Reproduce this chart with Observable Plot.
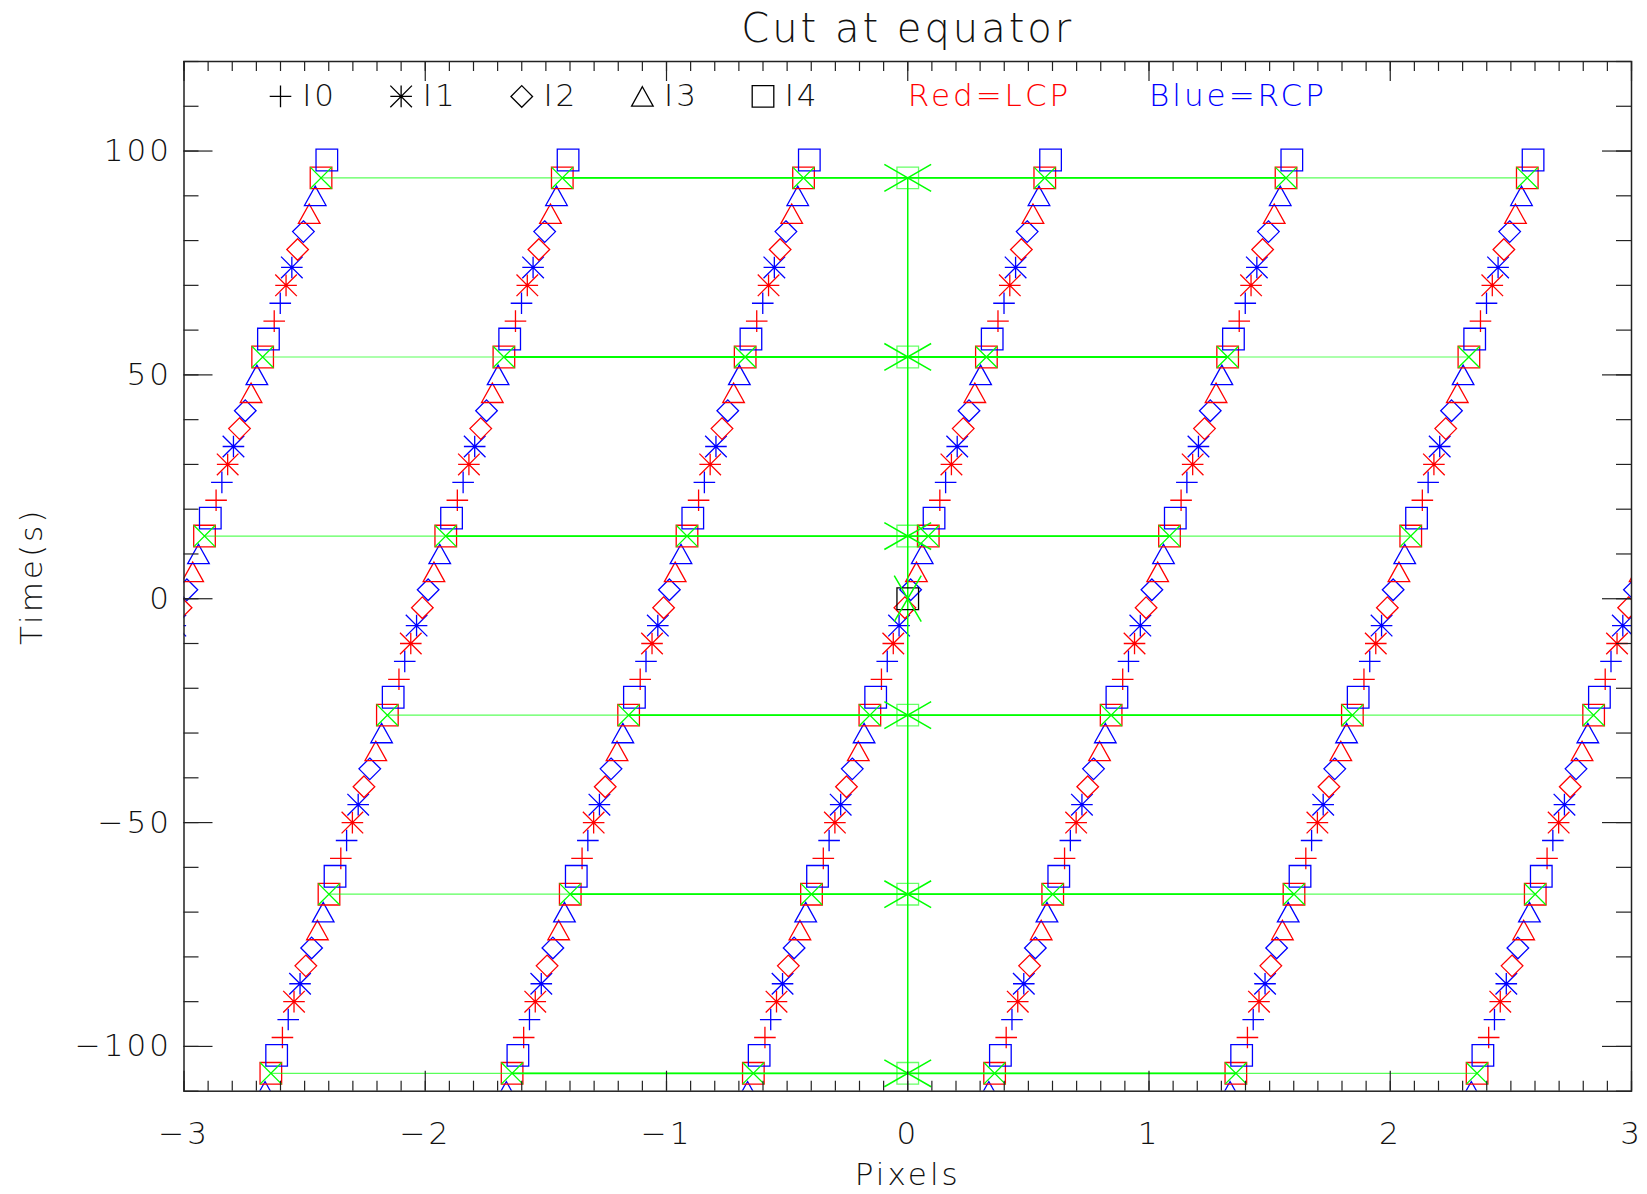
<!DOCTYPE html>
<html><head><meta charset="utf-8">
<script src="https://cdn.jsdelivr.net/npm/d3@7"></script>
<script src="https://cdn.jsdelivr.net/npm/@observablehq/plot@0.6"></script>
<style>
html,body{margin:0;padding:0;background:#fff;}
#chart svg{display:block;}
#chart svg text{letter-spacing:3px;}
</style></head><body><div id="chart"></div>
<script>
// ---------------- data ----------------
// sample times (s) along one track
const times = [-110,-106,-102,-98,-94,-90,-86,-82,-78,-74,-70,-66,-62,-58,-54,-50,-46,-42,-38,-34,-30,-26,-22,-18,-14,-10,-6,-2,2,6,10,14,18,22,26,30,34,38,42,46,50,54,58,62,66,70,74,78,82,86,90,94,98];
// pixel position of the track through the origin at each time
const phase = [-0.664,-0.640,-0.616,-0.592,-0.568,-0.544,-0.519,-0.495,-0.471,-0.447,-0.423,-0.399,-0.374,-0.350,-0.326,-0.302,-0.278,-0.254,-0.230,-0.205,-0.181,-0.157,-0.133,-0.109,-0.085,-0.060,-0.036,-0.012,0.012,0.036,0.060,0.085,0.109,0.133,0.157,0.181,0.205,0.230,0.254,0.278,0.302,0.326,0.350,0.374,0.399,0.423,0.447,0.471,0.495,0.519,0.544,0.568,0.592];
// the track is repeated every whole pixel
const chainShift = [-3,-2,-1,0,1,2,3];
// channel / polarisation cycle, starting at t = -110
const cycleChannel = ["I3","I4","I4","I0","I0","I1","I1","I2","I2","I3"];
const cyclePol     = ["RCP","LCP","RCP","LCP","RCP","LCP","RCP","LCP","RCP","LCP"];
// green reference levels
const levels = [94,54,14,-26,-66,-106];
const refPixel = 0, refTime = 0;
// legend
const legendChannels = ["I0","I1","I2","I3","I4"];
const polLabels = ["Red=LCP","Blue=RCP"];
// axes
const xTicks = [-3,-2,-1,0,1,2,3];
const xTickLabels = ["\u22123","\u22122","\u22121","0","1","2","3"];
const yTicks = [-100,-50,0,50,100];
const yTickLabels = ["\u2212100","\u221250","0","50","100"];
const xMinor = d3.range(-30, 31).map(v => v / 10);
const yMinor = d3.range(-11, 13).map(v => v * 10);
const titleText = "Cut at equator", xLabel = "Pixels", yLabel = "Time(s)";

// ---------------- layout ----------------
const W = 1647, H = 1194, mL = 183.5, mR = 16, mT = 61, mB = 103.3;
const fw = W - mL - mR, fh = H - mT - mB;
const FONT = "'DejaVu Sans', 'Liberation Sans', sans-serif";
const RED = "#ff0000", BLUE = "#0000ff", GREEN = "#00ff00", INK = "#111";
const R = 10.8;

const rows = [];
chainShift.forEach(k => times.forEach((t, i) => rows.push({
  t, x: phase[i] + k, ch: cycleChannel[i % 10], pol: cyclePol[i % 10]
})));

const levelRows = levels.map(t => {
  const xs = rows.filter(r => r.t === t && r.ch === "I4" && r.pol === "LCP" && r.x >= -3 && r.x <= 3)
    .map(r => r.x).sort((a, b) => a - b);
  return {t, x1: xs[0], x2: xs[xs.length - 1], i1: xs[1], i2: xs[xs.length - 2]};
});

// IDL-like symbols
const mk = f => ({draw(c, s) { const h = Math.sqrt(s / Math.PI); f(c, h); }});
const SYM = {
  I0: mk((c, h) => { c.moveTo(-h, 0); c.lineTo(h, 0); c.moveTo(0, -h); c.lineTo(0, h); }),
  I1: mk((c, h) => { c.moveTo(-h, 0); c.lineTo(h, 0); c.moveTo(0, -h); c.lineTo(0, h);
                     c.moveTo(-h, -h); c.lineTo(h, h); c.moveTo(-h, h); c.lineTo(h, -h); }),
  I2: mk((c, h) => { c.moveTo(0, -h); c.lineTo(h, 0); c.lineTo(0, h); c.lineTo(-h, 0); c.closePath(); }),
  I3: mk((c, h) => { c.moveTo(0, -0.9 * h); c.lineTo(h, 0.9 * h); c.lineTo(-h, 0.9 * h); c.closePath(); }),
  I4: mk((c, h) => { c.moveTo(-h, -h); c.lineTo(h, -h); c.lineTo(h, h); c.lineTo(-h, h); c.closePath(); })
};
const xSym = mk((c, h) => { c.moveTo(-h, -h); c.lineTo(h, h); c.moveTo(-h, h); c.lineTo(h, -h); });
const wideX = mk((c, h) => { const v = h * 0.575; c.moveTo(-h, -v); c.lineTo(h, v); c.moveTo(-h, v); c.lineTo(h, -v); });
const tallX = mk((c, h) => { const u = h * 0.587; c.moveTo(-u, -h); c.lineTo(u, h); c.moveTo(-u, h); c.lineTo(u, -h); });

const marks = [];
// tracks
for (const ch of ["I0","I1","I2","I3","I4"]) {
  for (const [pol, col] of [["LCP", RED], ["RCP", BLUE]]) {
    marks.push(Plot.dot(rows, {filter: d => d.ch === ch && d.pol === pol, x: "x", y: "t",
      symbol: SYM[ch], r: R, fill: "none", stroke: col, strokeWidth: 1.3, clip: true}));
  }
}
// green reference structure
marks.push(Plot.link(levelRows, {x1: "x1", x2: "x2", y1: "t", y2: "t", stroke: GREEN, strokeWidth: 1.2, strokeOpacity: 0.65}));
marks.push(Plot.link(levelRows, {x1: "i1", x2: "i2", y1: "t", y2: "t", stroke: GREEN, strokeWidth: 1.8}));
marks.push(Plot.ruleX([refPixel], {y1: d3.min(levels), y2: d3.max(levels), stroke: GREEN, strokeWidth: 1.5}));
marks.push(Plot.dot(rows, {filter: d => d.ch === "I4" && d.pol === "LCP", x: "x", y: "t",
  symbol: xSym, r: R, fill: "none", stroke: GREEN, strokeWidth: 1.3, clip: true}));
marks.push(Plot.dot(levels, {x: () => refPixel, y: d => d, symbol: SYM.I4, r: R, fill: "none", stroke: GREEN, strokeWidth: 1.3, strokeOpacity: 0.6}));
marks.push(Plot.dot(levels, {x: () => refPixel, y: d => d, symbol: wideX, r: 23.4, fill: "none", stroke: GREEN, strokeWidth: 1.5}));
marks.push(Plot.dot([refTime], {x: () => refPixel, y: d => d, symbol: SYM.I4, r: R, fill: "none", stroke: "#000", strokeWidth: 1.3}));
marks.push(Plot.dot([refTime], {x: () => refPixel, y: d => d, symbol: tallX, r: 23, fill: "none", stroke: GREEN, strokeWidth: 1.5}));

// ticks (inward, box on all sides)
const TK = "#222";
marks.push(Plot.tickX(xMinor, {x: d => d, insetTop: fh - 10, stroke: TK, strokeWidth: 1.2}));
marks.push(Plot.tickX(xMinor, {x: d => d, insetBottom: fh - 10, stroke: TK, strokeWidth: 1.2}));
marks.push(Plot.tickX(xTicks, {x: d => d, insetTop: fh - 20, stroke: TK, strokeWidth: 1.2}));
marks.push(Plot.tickX(xTicks, {x: d => d, insetBottom: fh - 20, stroke: TK, strokeWidth: 1.2}));
marks.push(Plot.tickY(yMinor, {y: d => d, insetRight: fw - 15, stroke: TK, strokeWidth: 1.2}));
marks.push(Plot.tickY(yMinor, {y: d => d, insetLeft: fw - 15, stroke: TK, strokeWidth: 1.2}));
marks.push(Plot.tickY(yTicks, {y: d => d, insetRight: fw - 29, stroke: TK, strokeWidth: 1.2}));
marks.push(Plot.tickY(yTicks, {y: d => d, insetLeft: fw - 29, stroke: TK, strokeWidth: 1.2}));
marks.push(Plot.frame({stroke: TK, strokeWidth: 1.5}));

// tick labels
marks.push(Plot.axisX(xTicks, {anchor: "bottom", tickSize: 0, tickPadding: 31, label: null,
  tickFormat: d => xTickLabels[xTicks.indexOf(d)], fontSize: 31, fill: INK}));
marks.push(Plot.axisY(yTicks, {anchor: "left", tickSize: 0, tickPadding: 12, label: null,
  tickFormat: d => yTickLabels[yTicks.indexOf(d)], fontSize: 31, fill: INK}));

// titles
marks.push(Plot.text([titleText], {frameAnchor: "top", dy: -32, text: d => d, fontSize: 40,
  textAnchor: "middle", lineAnchor: "middle", fill: INK}));
marks.push(Plot.text([xLabel], {frameAnchor: "bottom", dy: 84, text: d => d, fontSize: 31,
  textAnchor: "middle", lineAnchor: "middle", fill: INK}));
marks.push(Plot.text([yLabel], {frameAnchor: "left", dx: -152, rotate: -90, text: d => d, fontSize: 31,
  textAnchor: "middle", lineAnchor: "middle", fill: INK}));

// legend (placed in data units like the original)
const legendX0 = -2.6, legendStep = 0.5, legendGap = 0.09, legendY = 112.2;
legendChannels.forEach((c, i) => {
  marks.push(Plot.dot([c], {x: () => legendX0 + i * legendStep, y: () => legendY, symbol: SYM[c], r: R,
    fill: "none", stroke: "#000", strokeWidth: 1.3}));
});
marks.push(Plot.text(legendChannels, {x: (d, i) => legendX0 + legendGap + i * legendStep, y: () => legendY,
  text: d => d, textAnchor: "start", fontSize: 31, lineAnchor: "middle", fill: INK}));
marks.push(Plot.text([polLabels[0]], {x: () => 0, y: () => legendY, text: d => d, textAnchor: "start",
  fontSize: 31, lineAnchor: "middle", fill: RED}));
marks.push(Plot.text([polLabels[1]], {x: () => 1, y: () => legendY, text: d => d, textAnchor: "start",
  fontSize: 31, lineAnchor: "middle", fill: BLUE}));

const chart = Plot.plot({
  width: W, height: H,
  marginLeft: mL, marginRight: mR, marginTop: mT, marginBottom: mB,
  style: {fontFamily: FONT, fontSize: "31px", fontWeight: 200, background: "#fff"},
  x: {domain: [-3, 3]},
  y: {domain: [-110, 120]},
  marks
});
document.getElementById("chart").appendChild(chart);
</script>
</body></html>
